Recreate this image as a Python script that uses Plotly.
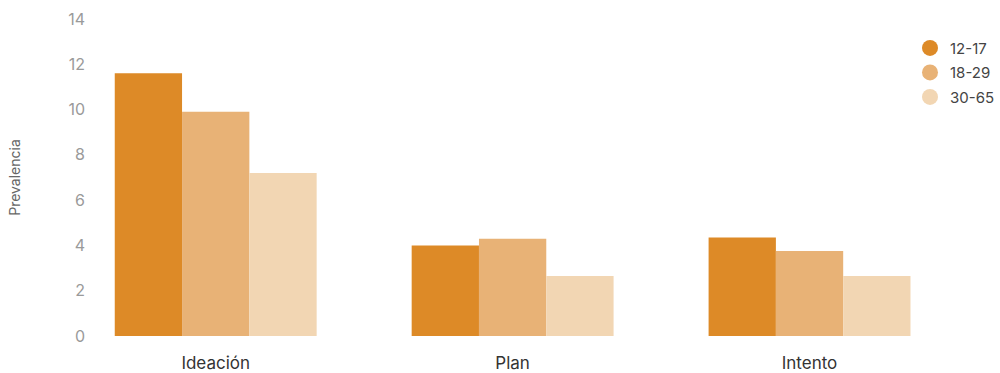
import plotly.graph_objects as go

categories = ["Ideación", "Plan", "Intento"]
groups = ["12-17", "18-29", "30-65"]
values_12_17 = [11.6, 4.0, 4.35]
values_18_29 = [9.9, 4.3, 3.75]
values_30_65 = [7.2, 2.65, 2.65]
colors = ["#DD8A27", "#E8B276", "#F2D6B3"]

series = [values_12_17, values_18_29, values_30_65]

fig = go.Figure()
for name, vals, col in zip(groups, series, colors):
    fig.add_trace(go.Bar(x=categories, y=vals, name=name, marker_color=col,
                         marker_line_width=0, showlegend=False))
for i, (name, col) in enumerate(zip(groups, colors)):
    fig.add_trace(go.Scatter(x=[None], y=[None], mode="markers", name=name,
                             legendgroup=name,
                             marker=dict(color=col, size=16, symbol="circle")))

fig.update_layout(
    width=1000, height=373,
    margin=dict(l=91, r=42, t=19, b=37, autoexpand=False),
    paper_bgcolor="white", plot_bgcolor="white",
    barmode="group", bargap=0.32, bargroupgap=0,
    font=dict(family="Inter", color="#333333"),
    xaxis=dict(range=[-0.42, 2.5], showgrid=False, showline=False, zeroline=False,
               ticks="", ticklabelstandoff=15, automargin=False,
               tickfont=dict(size=17, color="#333333")),
    yaxis=dict(range=[0, 14], dtick=2, showgrid=False, showline=False, zeroline=False,
               ticks="", automargin=False, ticklabelstandoff=5,
               tickfont=dict(size=16, color="#9a9a9a"),
               title=dict(text="Prevalencia", font=dict(size=14, color="#666666"), standoff=44)),
    legend=dict(xref="container", x=1.012, y=0.96, xanchor="right", yanchor="top",
                font=dict(size=15, color="#444444"), tracegroupgap=2,
                itemwidth=30, bgcolor="rgba(0,0,0,0)"),
)

fig.write_html("out.html", config={"displayModeBar": False},
               post_script="document.body.style.margin='0';document.body.style.overflow='hidden';")
